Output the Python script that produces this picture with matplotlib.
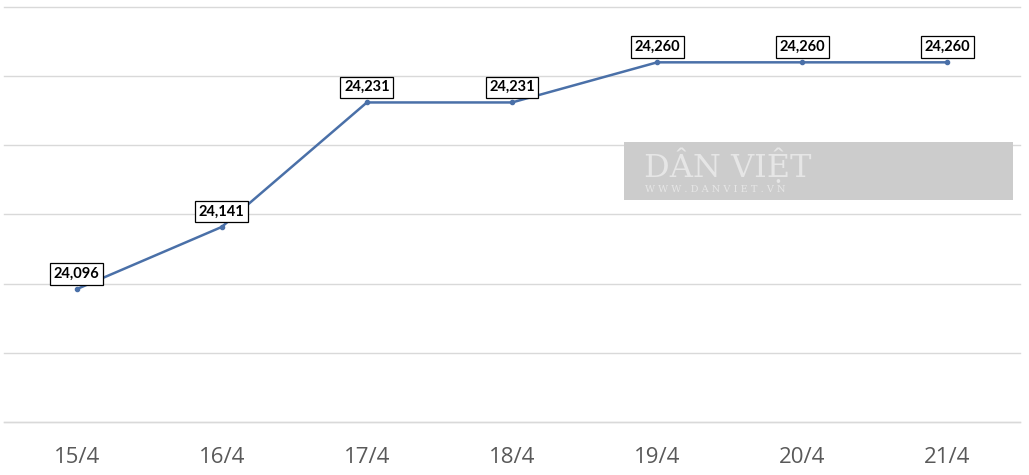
import matplotlib.pyplot as plt
from matplotlib.patches import Rectangle

dates = ["15/4", "16/4", "17/4", "18/4", "19/4", "20/4", "21/4"]
prices = [24096, 24141, 24231, 24231, 24260, 24260, 24260]

fig = plt.figure(figsize=(10.29, 4.75), dpi=100)
ax = fig.add_axes([4 / 1029, 53 / 475, 1016 / 1029, 415 / 475])

x = list(range(len(dates)))
ax.plot(x, prices, color="#4a70a8", linewidth=1.8, marker="o", markersize=3, zorder=3)

for xi, p in zip(x, prices):
    ax.annotate(f"{p:,}", (xi, p), xytext=(0, 11), textcoords="offset points",
                ha="center", va="center", fontsize=10.5, fontweight="bold",
                family="Lato", color="black",
                bbox=dict(boxstyle="square,pad=0.25", fc="white", ec="black", lw=0.9),
                zorder=5)

ax.set_xlim(-0.5, len(dates) - 0.5)
ax.set_ylim(24000, 24300)
ax.set_yticks(range(24000, 24301, 50))
ax.grid(axis="y", color="#d9d9d9", linewidth=1, clip_on=False)
ax.set_axisbelow(True)
ax.set_xticks(x)
ax.set_xticklabels(dates, fontsize=16, color="#595959", family="Open Sans")
ax.tick_params(axis="x", length=0, pad=18)
ax.tick_params(axis="y", left=False, labelleft=False)
for s in ax.spines.values():
    s.set_visible(False)
ax.axhline(24000, color="#d9d9d9", linewidth=1, clip_on=False, zorder=0)

# watermark box
fig.patches.append(Rectangle((624 / 1029, 1 - 200 / 475), 389 / 1029, 58 / 475,
                             transform=fig.transFigure, fc="#cccccc", ec="none", zorder=10))
fig.text(644 / 1029, 1 - 166 / 475, "DÂN VIỆT", fontsize=23, family="DejaVu Serif",
         color="#e6e6e6", va="center", ha="left", zorder=11)
fig.text(645 / 1029, 1 - 189 / 475, "W W W . D A N V I E T . V N", fontsize=7,
         family="DejaVu Serif", color="#e6e6e6", va="center", ha="left", zorder=11)

fig.savefig("out.png", dpi=100)
